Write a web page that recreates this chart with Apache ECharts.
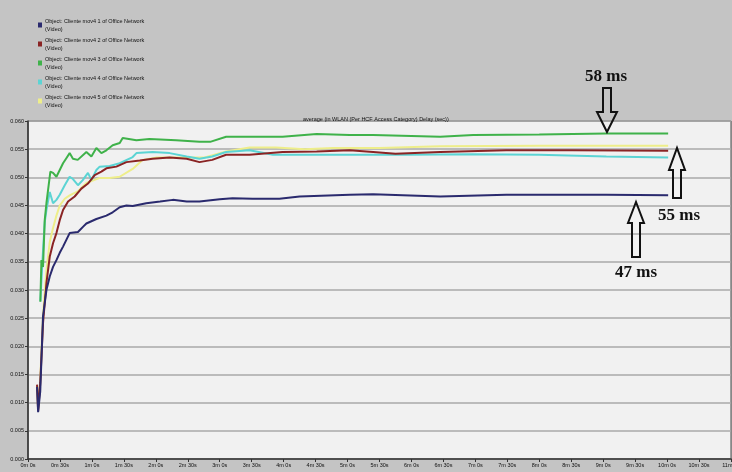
<!DOCTYPE html>
<html>
<head>
<meta charset="utf-8">
<script src="https://cdn.jsdelivr.net/npm/echarts@6/dist/echarts.min.js"></script>
<style>
html,body{margin:0;padding:0;background:#c4c4c4;}
#c{width:732px;height:472px;}
</style>
</head>
<body>
<div id="c"></div>
<script>
// ---- data (time in seconds, delay in seconds) ----
const seriesNames = [
  "Object: Cliente mov4 1 of Office Network\n(Video)",
  "Object: Cliente mov4 2 of Office Network\n(Video)",
  "Object: Cliente mov4 3 of Office Network\n(Video)",
  "Object: Cliente mov4 4 of Office Network\n(Video)",
  "Object: Cliente mov4 5 of Office Network\n(Video)"
];
const chartTitle = "average (in WLAN (Per HCF Access Category) Delay (sec))";

const client1 = [[8.5,0.0128],[9.5,0.0083],[11.5,0.0120],[14.1,0.0253],[17.3,0.0300],[20.4,0.0324],[23.5,0.0341],[26.7,0.0353],[29.8,0.0366],[32.9,0.0377],[36.0,0.0389],[39.1,0.0401],[46.9,0.0403],[51.6,0.0412],[54.8,0.0418],[64.2,0.0426],[73.6,0.0432],[79.5,0.0438],[86.1,0.0447],[92.4,0.0450],[98.3,0.0449],[111,0.0454],[124,0.0457],[136,0.0460],[149,0.0457],[161,0.0457],[180,0.0461],[192,0.0463],[211,0.0462],[236,0.0462],[255,0.0466],[302,0.0469],[324,0.0470],[387,0.0466],[449,0.0469],[543,0.0469],[601,0.0468]];
const client2 = [[8.5,0.0132],[9.5,0.0086],[11.5,0.0135],[14.1,0.0241],[17.3,0.0312],[20.4,0.0359],[23.5,0.0383],[26.7,0.0401],[29.8,0.0424],[32.9,0.0442],[37.6,0.0457],[43.8,0.0466],[50.1,0.0480],[56.3,0.0489],[62.6,0.0504],[68.9,0.0510],[73.6,0.0516],[83.0,0.0519],[92.4,0.0527],[104.9,0.0530],[117,0.0533],[133,0.0535],[149,0.0533],[161,0.0527],[173,0.0531],[186,0.0540],[208,0.0540],[239,0.0545],[271,0.0546],[302,0.0548],[324,0.0545],[345,0.0542],[387,0.0545],[449,0.0548],[511,0.0548],[601,0.0547]];
const client3 = [[11.6,0.0279],[12.6,0.0353],[14.1,0.0341],[15.7,0.0424],[17.3,0.0454],[21.0,0.0510],[23.5,0.0508],[26.7,0.0501],[29.8,0.0513],[32.9,0.0525],[36.0,0.0534],[39.1,0.0543],[42.2,0.0533],[46.7,0.0531],[54.8,0.0545],[59.5,0.0537],[64.2,0.0552],[68.9,0.0543],[73.6,0.0548],[79.5,0.0557],[86.1,0.0561],[88.9,0.0570],[101.8,0.0566],[114,0.0568],[139,0.0566],[161,0.0563],[171,0.0563],[186,0.0572],[208,0.0572],[239,0.0572],[271,0.0577],[302,0.0575],[324,0.0575],[387,0.0572],[418,0.0575],[480,0.0576],[543,0.0578],[601,0.0578]];
const client4 = [[11.6,0.0280],[13.5,0.0350],[15.7,0.0420],[17.3,0.0442],[20.4,0.0474],[23.5,0.0454],[26.7,0.0460],[29.8,0.0469],[34.5,0.0486],[39.1,0.0501],[42.2,0.0497],[46.9,0.0486],[51.4,0.0495],[56.3,0.0508],[59.5,0.0495],[64.2,0.0513],[67.3,0.0519],[76.7,0.0520],[86.1,0.0525],[98.3,0.0536],[101.8,0.0543],[117,0.0545],[133,0.0543],[149,0.0537],[161,0.0533],[173,0.0537],[186,0.0545],[208,0.0548],[230,0.0540],[255,0.0540],[302,0.0540],[355,0.0540],[417,0.0541],[480,0.0540],[543,0.0537],[601,0.0535]];
const client5 = [[8.5,0.0130],[9.5,0.0090],[11.5,0.0140],[14.1,0.0255],[17.3,0.0335],[20.4,0.0385],[23.5,0.0410],[26.7,0.0432],[29.8,0.0450],[34.5,0.0462],[39.1,0.0468],[46.7,0.0475],[54.8,0.0490],[67.3,0.0499],[76.7,0.0499],[86.1,0.0501],[98.3,0.0515],[107.7,0.0531],[120,0.0535],[140,0.0535],[165,0.0535],[186,0.0546],[208,0.0553],[233,0.0553],[260,0.0550],[286,0.0552],[330,0.0552],[387,0.0555],[480,0.0556],[601,0.0556]];

const seriesColors = ["#2a2a6e", "#8a2424", "#3fb24a", "#5cd4d4", "#eeee8a"];

const xTickInterval = 30;   // seconds
const xMax = 660;
const yMax = 0.06;
const yTickInterval = 0.005;

const annotations = [
  {text: "58 ms"}, {text: "55 ms"}, {text: "47 ms"}
];

// ---- chart ----
const chart = echarts.init(document.getElementById('c'), null, {renderer: 'canvas'});
const datasets = [client1, client2, client3, client4, client5];

function fmtTime(v) {
  const m = Math.floor(v / 60), s = Math.round(v % 60);
  return m + 'm ' + s + 's';
}

function arrowDown(cx, top, headY, tip, sw, hw) {
  return [[cx - sw, top], [cx + sw, top], [cx + sw, headY], [cx + hw, headY], [cx, tip], [cx - hw, headY], [cx - sw, headY]];
}
function arrowUp(cx, bottom, headY, tip, sw, hw) {
  return [[cx - sw, bottom], [cx + sw, bottom], [cx + sw, headY], [cx + hw, headY], [cx, tip], [cx - hw, headY], [cx - sw, headY]];
}

const annFont = {fontFamily: '"Liberation Serif","Times New Roman",serif', fontWeight: 'bold', fontSize: 17, fill: '#111'};

const option = {
  backgroundColor: '#c4c4c4',
  animation: false,
  title: {
    text: chartTitle,
    left: 298, top: 111,
    textStyle: {fontSize: 5.5, fontWeight: 'normal', color: '#111', fontFamily: 'Liberation Sans, Arial, sans-serif'}
  },
  legend: {
    orient: 'vertical',
    left: 33, top: 12,
    itemWidth: 4, itemHeight: 5,
    itemGap: 3,
    icon: 'rect',
    data: seriesNames,
    textStyle: {fontSize: 5.5, lineHeight: 8, color: '#111', padding: [0,0,0,-2], fontFamily: 'Liberation Sans, Arial, sans-serif'}
  },
  grid: {
    left: 28, right: 1, top: 121, bottom: 13,
    outerBoundsMode: 'none',
    containLabel: false,
    show: true, backgroundColor: '#f1f1f1', borderColor: '#4a4a4a', borderWidth: 1
  },
  xAxis: {
    type: 'value', min: 0, max: xMax, interval: xTickInterval,
    axisLine: {show: true, lineStyle: {color: '#333', width: 1.5}},
    axisTick: {show: true, length: 3, lineStyle: {color: '#333'}},
    axisLabel: {formatter: fmtTime, fontSize: 5.5, color: '#111', margin: 3, hideOverlap: false, fontFamily: 'Liberation Sans, Arial, sans-serif'},
    splitLine: {show: false}
  },
  yAxis: {
    type: 'value', min: 0, max: yMax, interval: yTickInterval,
    axisLine: {show: true, lineStyle: {color: '#333', width: 1.5}},
    axisTick: {show: true, length: 3, lineStyle: {color: '#333'}},
    axisLabel: {formatter: v => v.toFixed(3), fontSize: 5.5, color: '#111', margin: 4, fontFamily: 'Liberation Sans, Arial, sans-serif'},
    splitLine: {show: true, lineStyle: {color: '#a9a9a9', width: 1.6}}
  },
  series: datasets.map((d, i) => ({
    name: seriesNames[i],
    type: 'line',
    data: d,
    showSymbol: false,
    symbol: 'none',
    color: seriesColors[i],
    lineStyle: {width: 2, color: seriesColors[i]},
    z: [5, 4, 3, 2, 1][i] + 2
  })),
  graphic: [
    {type: 'text', left: 585, top: 68, style: Object.assign({text: annotations[0].text}, annFont), z: 100},
    {type: 'polygon', shape: {points: arrowDown(607, 88, 112, 132, 4, 10)}, style: {fill: 'rgba(0,0,0,0)', stroke: '#111', lineWidth: 2}, z: 100},
    {type: 'text', left: 658, top: 207, style: Object.assign({text: annotations[1].text}, annFont), z: 100},
    {type: 'polygon', shape: {points: arrowUp(677, 198, 170, 148, 4, 8)}, style: {fill: 'rgba(0,0,0,0)', stroke: '#111', lineWidth: 2}, z: 100},
    {type: 'text', left: 615, top: 264, style: Object.assign({text: annotations[2].text}, annFont), z: 100},
    {type: 'polygon', shape: {points: arrowUp(636, 257, 223, 202, 4, 8)}, style: {fill: 'rgba(0,0,0,0)', stroke: '#111', lineWidth: 2}, z: 100}
  ]
};
chart.setOption(option);
</script>
</body>
</html>
